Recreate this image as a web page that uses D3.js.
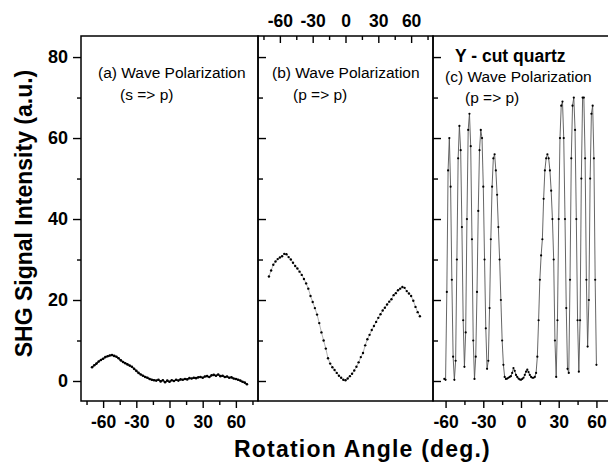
<!DOCTYPE html>
<html>
<head>
<meta charset="utf-8">
<script src="https://cdn.jsdelivr.net/npm/d3@7"></script>
<style>
body { margin: 0; background: #fff; }
text { font-family: "Liberation Sans", Arial, Helvetica, sans-serif; fill: #000; }
.note { font-size: 15.5px; }
</style>
</head>
<body>
<svg id="chart" width="608" height="464"></svg>
<script>
// panel (a) s => p, read every 2 deg
var angleA = [-70,-68,-66,-64,-62,-60,-58,-56,-54,-52,-50,-48,-46,-44,-42,-40,-38,-36,-34,-32,-30,
  -28,-26,-24,-22,-20,-18,-16,-14,-12,-10,-8,-6,-4,-2,0,2,4,6,8,10,12,14,16,18,20,22,24,26,28,30,
  32,34,36,38,40,42,44,46,48,50,52,54,56,58,60,62,64,66,68,70];
var signalA = [3.4,3.9,4.3,4.8,5.2,5.5,5.9,6.1,6.3,6.4,6.2,6.0,5.6,5.1,4.7,4.4,4.1,3.8,3.5,3.0,2.5,
  2.0,1.6,1.3,1.0,0.8,0.5,0.3,0.2,0.1,0.3,-0.1,0.2,-0.3,0.1,-0.2,0.2,0.0,0.3,0.1,0.4,0.3,0.5,0.4,0.7,
  0.6,0.8,0.7,0.9,1.0,0.8,1.1,1.2,1.0,1.4,1.5,1.3,1.6,1.2,1.3,1.0,1.1,0.8,0.9,0.6,0.5,0.3,0.1,-0.2,-0.4,-0.8];

// panel (b) p => p
var angleB = [-70,-68,-66,-64,-62,-60,-58,-56,-54,-52,-50,-48,-46,-44,-42,-40,-38,-36,-34,-32,-30,
  -28,-26,-24,-22,-20,-18,-16,-14,-12,-10,-8,-6,-4,-2,0,2,4,6,8,10,12,14,16,18,20,22,24,26,28,30,
  32,34,36,38,40,42,44,46,48,50,52,54,56,58,60,62,64,66,68];
var signalB = [25.8,27.3,28.7,29.5,30.1,30.5,30.8,31.4,31.3,30.6,30.0,29.2,28.4,27.8,27.0,26.2,25.2,
  24.1,22.8,21.0,19.5,18.0,16.4,14.3,12.0,10.0,8.0,5.6,4.3,3.4,2.7,2.0,1.3,0.8,0.3,0.2,0.6,1.2,1.8,
  2.6,3.5,4.6,5.9,6.9,8.8,10.3,11.4,12.6,13.6,14.6,15.6,16.5,17.4,18.1,18.9,19.6,20.2,21.2,21.7,
  22.4,22.8,23.2,23.0,22.2,21.6,21.0,19.8,18.3,17.0,16.0];

// panel (c) Y-cut quartz fringes, every 1 deg
var angleC = [-61,-60,-59,-58,-57,-56,-55,-54,-53,-52,-51,-50,-49,-48,-47,-46,-45,-44,-43,-42,-41,
  -40,-39,-38,-37,-36,-35,-34,-33,-32,-31,-30,-29,-28,-27,-26,-25,-24,-23,-22,-21,-20,-19,-18,-17,
  -16,-15,-14,-13,-12,-11,-10,-9,-8,-7,-6,-5,-4,-3,-2,-1,0,1,2,3,4,5,6,7,8,9,10,11,12,13,14,15,16,
  17,18,19,20,21,22,23,24,25,26,27,28,29,30,31,32,33,34,35,36,37,38,39,40,41,42,43,44,45,46,47,48,
  49,50,51,52,53,54,55,56,57,58,59,60];
var signalC = [0.5,0.3,22,52,60,48,25,6,0.3,5,30,55,63,57,38,15,3.5,12,40,62,66,
  58,35,10,0.5,6,22,42,57,62,60,48,30,13,3,5,18,35,48,55,56,52,46,38,30,
  20,10,4,1,0.5,0.6,0.8,1,1.2,2,3.2,2.5,1.5,1,0.6,0.4,0.3,0.5,0.8,1.5,2.3,2.8,2.2,1.5,1,0.8,0.8,1,2,6,15,25,31,
  35,45,52,55,56,55,52,47,40,30,10,1,15,40,60,68,69,60,40,18,3,2,25,55,68,70,62,40,15,2.3,15,50,
  70,70,55,25,8.5,20,50,66,68,55,25,4];

var yTicks = [0, 20, 40, 60, 80];
var yMinor = [10, 30, 50, 70];
var xTicks = [-60, -30, 0, 30, 60];
var xMinorAB = [-75, -45, -15, 15, 45, 75];
var xMinorC = [-45, -15, 15, 45];

var svg = d3.select("#chart");
var plotTop = 36, plotBottom = 401;
var plain = function (d) { return String(d); }; // keep the hyphen minus

var y = d3.scaleLinear().domain([-4.94, 85.2]).range([plotBottom, plotTop]);
var xA = d3.scaleLinear().domain([-80, 80]).range([81, 258]);
var xB = d3.scaleLinear().domain([-80, 80]).range([258, 433]);
var xC = d3.scaleLinear().domain([-70, 70]).range([433, 609]);

function cleanAxis(g) {
  g.select(".domain").remove();
  g.selectAll("line").attr("stroke", "#000").attr("stroke-width", 1.4);
  g.selectAll("text").style("font-weight", "bold").style("font-size", "17.5px");
}

// frames
[[81, 258], [258, 433], [433, 609]].forEach(function (p) {
  svg.append("rect")
    .attr("x", p[0]).attr("y", plotTop)
    .attr("width", p[1] - p[0]).attr("height", plotBottom - plotTop)
    .attr("fill", "none").attr("stroke", "#000").attr("stroke-width", 1.5);
});

// left axis of (a), ticks outward
svg.append("g").attr("transform", "translate(81,0)")
  .call(d3.axisLeft(y).tickValues(yTicks).tickSize(8).tickPadding(5).tickFormat(plain))
  .call(cleanAxis)
  .selectAll("text").style("font-size", "18px");
svg.append("g").attr("transform", "translate(81,0)")
  .call(d3.axisLeft(y).tickValues(yMinor).tickSize(4).tickFormat(""))
  .call(cleanAxis);

// left axes of (b) and (c), ticks inward
[258, 433].forEach(function (px) {
  svg.append("g").attr("transform", "translate(" + px + ",0)")
    .call(d3.axisRight(y).tickValues(yTicks).tickSize(8).tickFormat(""))
    .call(cleanAxis);
  svg.append("g").attr("transform", "translate(" + px + ",0)")
    .call(d3.axisRight(y).tickValues(yMinor).tickSize(5).tickFormat(""))
    .call(cleanAxis);
});

// bottom of (a)
svg.append("g").attr("transform", "translate(0," + plotBottom + ")")
  .call(d3.axisBottom(xA).tickValues(xTicks).tickSize(7).tickPadding(8).tickFormat(plain))
  .call(cleanAxis);
svg.append("g").attr("transform", "translate(0," + plotBottom + ")")
  .call(d3.axisBottom(xA).tickValues(xMinorAB).tickSize(4).tickFormat(""))
  .call(cleanAxis);

// top of (b), ticks pointing down, labels above
svg.append("g").attr("transform", "translate(0," + plotTop + ")")
  .call(d3.axisTop(xB).tickValues(xTicks).tickSize(-7).tickPadding(9).tickFormat(plain))
  .call(cleanAxis);
svg.append("g").attr("transform", "translate(0," + plotTop + ")")
  .call(d3.axisTop(xB).tickValues(xMinorAB).tickSize(-4).tickFormat(""))
  .call(cleanAxis);

// bottom of (c)
svg.append("g").attr("transform", "translate(0," + plotBottom + ")")
  .call(d3.axisBottom(xC).tickValues(xTicks).tickSize(7).tickPadding(8).tickFormat(plain))
  .call(cleanAxis);
svg.append("g").attr("transform", "translate(0," + plotBottom + ")")
  .call(d3.axisBottom(xC).tickValues(xMinorC).tickSize(4).tickFormat(""))
  .call(cleanAxis);

// data
function drawSeries(xs, ys, xScale, lineColor, lineWidth, r) {
  var pts = xs.map(function (d, i) { return [d, ys[i]]; });
  svg.append("path")
    .datum(pts)
    .attr("fill", "none")
    .attr("stroke", lineColor)
    .attr("stroke-width", lineWidth)
    .attr("d", d3.line().x(function (d) { return xScale(d[0]); }).y(function (d) { return y(d[1]); }));
  svg.append("g").selectAll("circle")
    .data(pts).enter().append("circle")
    .attr("cx", function (d) { return xScale(d[0]); })
    .attr("cy", function (d) { return y(d[1]); })
    .attr("r", r)
    .attr("fill", "#000");
}
drawSeries(angleA, signalA, xA, "#222", 1.4, 1.3);
drawSeries(angleB, signalB, xB, "#666", 0.5, 1.2);
drawSeries(angleC, signalC, xC, "#555", 0.9, 1.1);

// notes
svg.append("text").attr("class", "note").attr("x", 98).attr("y", 78).text("(a) Wave Polarization");
svg.append("text").attr("class", "note").attr("x", 120).attr("y", 100).text("(s => p)");
svg.append("text").attr("class", "note").attr("x", 272).attr("y", 78).text("(b) Wave Polarization");
svg.append("text").attr("class", "note").attr("x", 293).attr("y", 100).text("(p => p)");
svg.append("text").attr("x", 455).attr("y", 62)
  .style("font-weight", "bold").style("font-size", "17.5px").text("Y - cut quartz");
svg.append("text").attr("class", "note").attr("x", 445).attr("y", 82).text("(c) Wave Polarization");
svg.append("text").attr("class", "note").attr("x", 465).attr("y", 103).text("(p => p)");

// axis titles
svg.append("text")
  .attr("transform", "translate(31.5,213.5) rotate(-90)")
  .attr("text-anchor", "middle")
  .style("font-weight", "bold").style("font-size", "23px")
  .text("SHG Signal Intensity (a.u.)");
svg.append("text")
  .attr("x", 362.5).attr("y", 457)
  .attr("text-anchor", "middle")
  .style("font-weight", "bold").style("font-size", "23px").style("letter-spacing", "1.2px")
  .text("Rotation Angle (deg.)");
</script>
</body>
</html>
